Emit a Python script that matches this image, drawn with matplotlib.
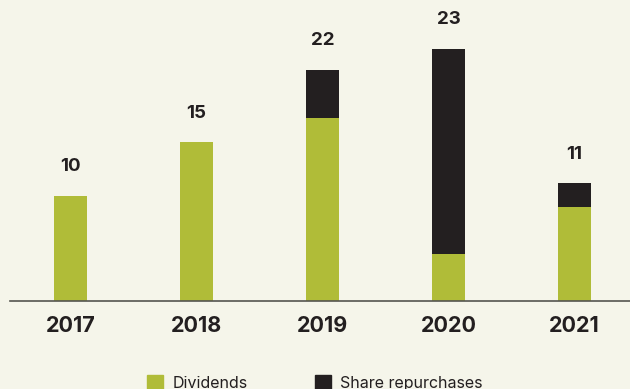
import matplotlib
matplotlib.use("Agg")
import matplotlib.pyplot as plt
from matplotlib.patches import Patch

years = ["2017", "2018", "2019", "2020", "2021"]
dividends = [10.0, 15.1, 17.4, 4.5, 9.0]
repurchases = [0.0, 0.0, 4.6, 19.5, 2.2]
totals = ["10", "15", "22", "23", "11"]

bg = "#f5f5ea"
green = "#b0bc38"
dark = "#231f20"

plt.rcParams['font.family'] = ['Inter', 'DejaVu Sans']

fig = plt.figure(figsize=(6.3, 3.89), dpi=100, facecolor=bg)
ax = fig.add_axes([10/630, 88/389, 620/630, 301/389])
ax.set_facecolor(bg)

x = list(range(len(years)))
ax.bar(x, dividends, width=0.262, color=green, label="Dividends")
ax.bar(x, repurchases, width=0.262, bottom=dividends, color=dark, label="Share repurchases")

for i in x:
    top = dividends[i] + repurchases[i]
    ax.annotate(totals[i], (i, top), xytext=(0, 21), textcoords="offset points",
                ha="center", va="center", fontsize=13.5, fontweight="bold", color=dark)

ax.set_xlim(-0.48, 4.44)
ax.set_ylim(0, 28.67)
ax.set_xticks(x)
ax.set_xticklabels(years, fontsize=15.5, fontweight="bold", color=dark)
ax.tick_params(axis="x", length=0, pad=11)
ax.set_yticks([])
for s in ["top", "right", "left"]:
    ax.spines[s].set_visible(False)
ax.spines["bottom"].set_color("#555550")
ax.spines["bottom"].set_linewidth(1.2)

handles = [Patch(color=green), Patch(color=dark)]
fig.legend(handles, ["Dividends", "Share repurchases"], loc="center",
           bbox_to_anchor=(315/630, 6/389), ncol=2, frameon=False,
           fontsize=11.5, handlelength=1.0, handleheight=1.0,
           handletextpad=0.6, columnspacing=4.2, labelcolor=dark)

fig.savefig("out.png", dpi=100, facecolor=bg)
